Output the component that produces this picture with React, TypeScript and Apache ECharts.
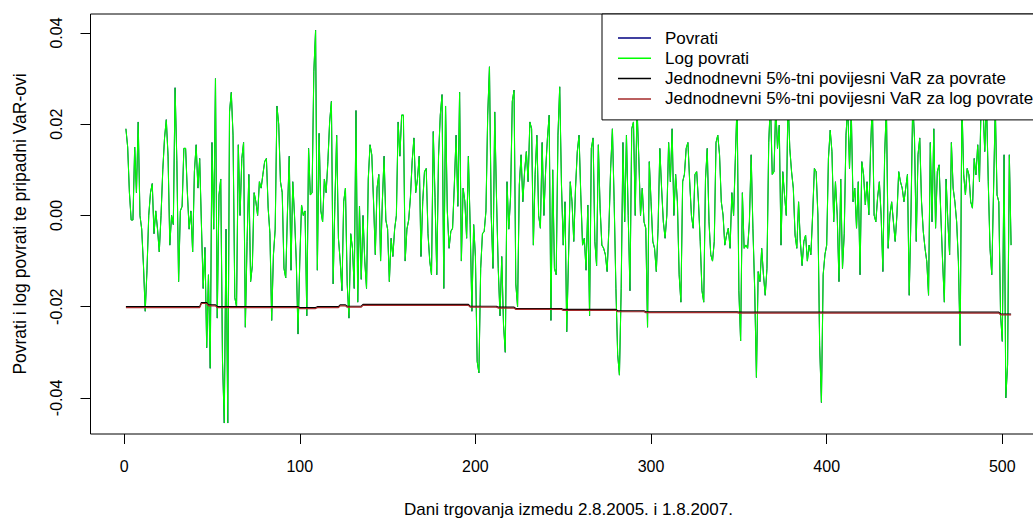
import React, { useEffect, useRef } from "react";
import * as echarts from "echarts";

// Daily log returns (trading days 1..505)
const logPovrati: number[] = [
  0.019, 0.015, 0.005, -0.001, -0.001, 0.015, 0.005, 0.0205, 0.000, -0.003,
  -0.011, -0.021, -0.012, 0.000, 0.005, 0.007, -0.004, 0.001, -0.003, -0.008,
  0.000, 0.010, 0.017, 0.021, 0.013, -0.0065, 0.000, -0.002, 0.028, 0.012,
  -0.0145, 0.001, 0.002, 0.0147, 0.0147, 0.005, -0.003, 0.001, -0.008, 0.0096,
  0.0155, 0.006, 0.0125, -0.002, -0.016, -0.007, -0.029, -0.013, -0.0335, 0.016,
  -0.003, 0.030, -0.0225, 0.0045, 0.008, -0.032, -0.0455, -0.003, -0.0455, 0.0227,
  0.027, 0.0176, -0.018, -0.020, 0.0155, 0.000, 0.0125, 0.016, -0.0245, -0.0057,
  0.009, -0.0145, -0.011, 0.005, 0.003, 0.000, 0.0074, 0.006, 0.009, 0.0118,
  0.0125, 0.0016, -0.004, -0.023, -0.0086, -0.003, 0.024, 0.020, 0.0074, 0.005,
  -0.0116, -0.0137, 0.001, 0.013, -0.012, 0.0074, 0.000, -0.010, -0.026, -0.010,
  0.0023, 0.000, 0.001, -0.022, 0.0147, 0.0045, 0.005, 0.0315, 0.0406, -0.012,
  0.018, 0.001, -0.0014, 0.008, 0.005, 0.0118, 0.0205, 0.025, -0.015, 0.003,
  0.0176, -0.005, -0.010, -0.0165, 0.003, 0.006, -0.015, -0.0225, -0.004, -0.0072,
  -0.016, 0.023, -0.019, 0.002, -0.014, 0.000, -0.010, -0.016, 0.008, 0.0155,
  0.0133, 0.003, -0.0086, 0.006, 0.009, -0.010, 0.003, 0.013, -0.001, -0.003,
  -0.0145, -0.005, -0.009, -0.003, 0.000, 0.0205, 0.013, 0.022, 0.022, -0.010,
  -0.003, -0.001, 0.004, 0.012, 0.017, 0.005, 0.008, 0.013, -0.009, 0.003,
  0.0096, 0.0103, -0.004, -0.010, -0.013, 0.0184, 0.004, -0.013, 0.013, 0.022,
  0.0265, -0.016, 0.024, 0.001, -0.0072, -0.0035, -0.0028, 0.0067, 0.0176, 0.002,
  0.027, -0.010, 0.006, 0.003, -0.005, 0.013, -0.002, -0.021, -0.002, -0.009,
  -0.032, -0.0345, -0.0116, -0.004, -0.0035, 0.001, 0.022, 0.0326, 0.000, -0.0116,
  0.0227, 0.004, -0.0116, -0.022, -0.009, -0.024, -0.030, 0.0074, -0.003, 0.004,
  0.025, 0.0275, -0.015, -0.020, 0.0067, 0.0133, 0.003, 0.0096, 0.014, 0.0074,
  0.0205, 0.019, -0.0065, 0.009, 0.0176, 0.000, -0.0028, 0.016, 0.000, 0.010,
  0.0169, 0.022, -0.023, 0.010, -0.0116, -0.013, 0.0176, 0.0282, 0.0067, -0.0065,
  0.003, -0.0255, -0.0094, 0.0074, 0.003, -0.0057, 0.006, 0.014, 0.0176, 0.0045,
  -0.0065, -0.005, -0.012, 0.0023, -0.022, 0.0147, 0.017, -0.0057, -0.011, 0.0155,
  0.0016, -0.0065, -0.0072, -0.0086, -0.0123, -0.0028, 0.0103, 0.019, 0.003, -0.016,
  -0.0305, -0.035, -0.016, 0.016, -0.0014, 0.0176, 0.000, -0.0165, 0.019, 0.0205,
  0.000, 0.024, 0.013, 0.000, 0.006, -0.0014, -0.0028, -0.0245, 0.0118, 0.003,
  -0.0057, -0.0072, -0.0123, -0.0028, 0.0147, 0.006, -0.0014, -0.005, 0.0001, 0.016,
  0.0074, 0.019, 0.000, 0.009, 0.003, -0.013, -0.019, 0.0074, 0.009, 0.0147,
  0.016, 0.0074, 0.000, -0.0028, 0.009, 0.0096, 0.003, -0.0057, -0.0165, -0.019,
  0.008, 0.0147, -0.0014, -0.0086, -0.010, -0.0057, 0.016, 0.0176, 0.0133, 0.003,
  0.0001, -0.0065, -0.0043, -0.0028, -0.0072, 0.005, 0.000, 0.0125, 0.025, -0.0165,
  -0.0275, 0.005, -0.0072, -0.0065, -0.0072, -0.0014, 0.0133, -0.0028, -0.016, -0.0355,
  -0.0123, -0.0145, -0.0072, -0.013, -0.0175, -0.0116, 0.016, 0.025, 0.009, 0.0096,
  0.024, 0.0147, 0.0198, -0.0065, 0.0096, 0.0045, 0.000, 0.026, 0.0147, 0.0096,
  0.006, -0.0043, -0.0072, 0.003, -0.0057, -0.011, -0.0057, -0.0043, -0.010, -0.0065,
  -0.0086, 0.0001, 0.0103, 0.0096, 0.0001, -0.0285, -0.041, -0.013, -0.0086, -0.0065,
  0.0125, 0.0187, 0.014, -0.0014, 0.0074, 0.0001, -0.0145, 0.008, -0.0116, -0.004,
  0.0176, 0.024, 0.0103, 0.023, 0.003, 0.006, -0.0028, 0.0074, -0.013, 0.0118,
  0.009, 0.0023, 0.0074, 0.0001, 0.0147, 0.025, 0.0001, -0.0014, 0.004, 0.0074,
  0.0001, -0.0123, 0.0133, 0.024, -0.0072, 0.0001, 0.003, -0.0014, -0.0057, 0.0001,
  0.0096, 0.0074, 0.006, 0.003, 0.006, 0.009, -0.0175, 0.0001, 0.025, 0.017,
  -0.0057, 0.0133, 0.017, 0.003, -0.0035, -0.0072, -0.0101, -0.0175, 0.016, -0.0014,
  0.019, -0.0028, 0.0096, 0.0111, 0.0001, -0.0101, -0.019, 0.008, -0.0014, -0.0086,
  0.016, 0.006, 0.003, -0.0014, -0.0101, -0.0285, 0.025, 0.009, 0.0045, 0.0103,
  0.0089, 0.003, 0.0016, 0.0125, 0.0089, 0.0155, 0.0074, 0.026, 0.024, 0.014,
  0.025, 0.0074, -0.0072, -0.013, 0.0052, 0.024, 0.0045, 0.003, -0.0218, -0.0276,
  0.0133, -0.040, -0.0327, 0.0133, -0.0065,
];

// Simple returns: at this scale indistinguishable from the log returns (drawn underneath)
const povrati: number[] = logPovrati;

// Historical 1-day 5% VaR: step values, each valid from the given trading day on
const varStartDays: number[] = [1, 44, 48, 53, 100, 110, 123, 127, 136, 197, 213, 223, 250, 281, 297, 350, 499];
const varPovrati: number[] = [-0.0200, -0.0191, -0.0196, -0.0200, -0.0202, -0.0200, -0.0196, -0.0199, -0.0195, -0.0199, -0.0201, -0.0204, -0.0206, -0.0209, -0.0211, -0.0212, -0.0216];
const varLogPovrati: number[] = [-0.0202, -0.0193, -0.0198, -0.0202, -0.0204, -0.0202, -0.0198, -0.0201, -0.0197, -0.0201, -0.0203, -0.0206, -0.0208, -0.0211, -0.0213, -0.0214, -0.0218];

const xTicks: number[] = [0, 100, 200, 300, 400, 500];
const yTicks: number[] = [-0.04, -0.02, 0.0, 0.02, 0.04];

const seriesNames = [
  "Povrati",
  "Log povrati",
  "Jednodnevni 5%-tni povijesni VaR za povrate",
  "Jednodnevni 5%-tni povijesni VaR za log povrate",
];
const seriesColors = ["#000080", "#00ff00", "#000000", "#a52a2a"];

const xTitle = "Dani trgovanja izmedu 2.8.2005. i 1.8.2007.";
const yTitle = "Povrati i log povrati te pripadni VaR-ovi";

function toPairs(vals: number[]): number[][] {
  return vals.map((v, k) => [k + 1, v]);
}

function stepSeries(values: number[], n: number): number[][] {
  const out: number[][] = [];
  for (let d = 1; d <= n; d++) {
    let idx = 0;
    for (let j = 0; j < varStartDays.length; j++) {
      if (varStartDays[j] <= d) idx = j;
    }
    out.push([d, values[idx]]);
  }
  return out;
}

const FONT = "'Liberation Sans', Arial, Helvetica, sans-serif";

export default function App() {
  const ref = useRef<HTMLDivElement>(null);
  useEffect(() => {
    if (!ref.current) return;
    const chart = echarts.init(ref.current, undefined, { renderer: "svg" });
    const n = logPovrati.length;
    chart.setOption({
      animation: false,
      backgroundColor: "#ffffff",
      textStyle: { fontFamily: FONT, color: "#000" },
      grid: {
        left: 90.5,
        top: 14,
        width: 956,
        height: 420,
        show: true,
        borderColor: "#000",
        borderWidth: 1,
        backgroundColor: "transparent",
        containLabel: false,
        outerBoundsMode: "none",
      },
      legend: {
        orient: "vertical",
        left: 602,
        top: 14,
        padding: [14, 40, 11, 16],
        itemWidth: 33,
        itemHeight: 1.5,
        itemGap: 0.3,
        icon: "rect",
        backgroundColor: "#ffffff",
        borderColor: "#000",
        borderWidth: 1,
        borderRadius: 0,
        z: 10,
        data: seriesNames.map((nm, i) => ({ name: nm, itemStyle: { color: seriesColors[i] } })),
        textStyle: {
          fontFamily: FONT,
          fontSize: 17,
          color: "#000",
          lineHeight: 20,
          padding: [0, 0, 0, 9],
        },
      },
      xAxis: {
        type: "value",
        min: -19.16,
        max: 525.16,
        name: xTitle,
        nameLocation: "middle",
        nameGap: 67,
        nameTextStyle: { fontFamily: FONT, fontSize: 17, color: "#000" },
        axisLine: { show: false, onZero: false },
        splitLine: { show: false },
        axisTick: {
          show: true,
          length: 10,
          customValues: xTicks,
          lineStyle: { color: "#000", width: 1 },
        },
        axisLabel: {
          customValues: xTicks,
          fontFamily: FONT,
          fontSize: 16,
          color: "#000",
          margin: 24,
        },
      },
      yAxis: {
        type: "value",
        min: -0.0479,
        max: 0.04416,
        name: yTitle,
        nameLocation: "middle",
        nameGap: 62,
        nameTextStyle: { fontFamily: FONT, fontSize: 17.5, color: "#000" },
        axisLine: { show: false, onZero: false },
        splitLine: { show: false },
        axisTick: {
          show: true,
          length: 10,
          customValues: yTicks,
          lineStyle: { color: "#000", width: 1 },
        },
        axisLabel: {
          customValues: yTicks,
          rotate: 90,
          fontFamily: FONT,
          fontSize: 16,
          color: "#000",
          margin: 26,
          formatter: (v: number) => v.toFixed(2),
        },
      },
      series: [
        {
          name: seriesNames[0],
          type: "line",
          data: toPairs(povrati),
          symbol: "none",
          lineStyle: { color: seriesColors[0], width: 1 },
          itemStyle: { color: seriesColors[0] },
          z: 2,
        },
        {
          name: seriesNames[1],
          type: "line",
          data: toPairs(logPovrati),
          symbol: "none",
          lineStyle: { color: seriesColors[1], width: 1.1 },
          itemStyle: { color: seriesColors[1] },
          z: 3,
        },
        {
          name: seriesNames[2],
          type: "line",
          data: stepSeries(varPovrati, n),
          symbol: "none",
          lineStyle: { color: seriesColors[2], width: 1.2 },
          itemStyle: { color: seriesColors[2] },
          z: 4,
        },
        {
          name: seriesNames[3],
          type: "line",
          data: stepSeries(varLogPovrati, n),
          symbol: "none",
          lineStyle: { color: seriesColors[3], width: 1.2 },
          itemStyle: { color: seriesColors[3] },
          z: 5,
        },
      ],
    });
    return () => chart.dispose();
  }, []);
  return (
    <div
      style={{
        position: "fixed",
        left: 0,
        top: 0,
        width: 1033,
        height: 518,
        overflow: "hidden",
        background: "#fff",
      }}
    >
      <div ref={ref} style={{ width: 1070, height: 518 }} />
    </div>
  );
}
